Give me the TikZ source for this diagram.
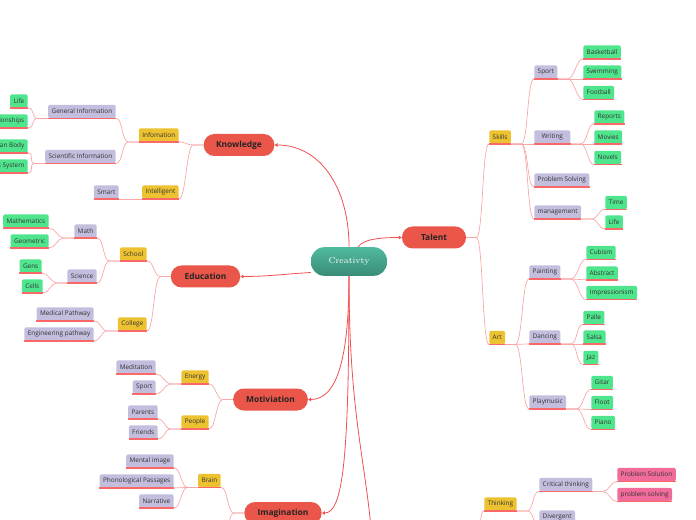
\documentclass[tikz,border=0pt]{standalone}
\usepackage{fontspec}
\newfontfamily\mapfont{Open Sans}
\usepackage{tikz}
\usetikzlibrary{arrows.meta}
\definecolor{topicred}{HTML}{EA5649}
\definecolor{midyel}{HTML}{EDC230}
\definecolor{leafpur}{HTML}{C3BDDE}
\definecolor{leafgrn}{HTML}{4FE58C}
\definecolor{leafpnk}{HTML}{F16B9B}
\definecolor{cretop}{HTML}{50BA9E}
\definecolor{crebot}{HTML}{3A8C78}
\definecolor{mainln}{HTML}{F24F4F}
\definecolor{branchln}{HTML}{F8A5A5}
\definecolor{ulred}{HTML}{FA6868}
\definecolor{inktxt}{HTML}{333333}
\tikzset{
  central/.style={
    rectangle, rounded corners=10pt, top color=cretop, bottom color=crebot,
    minimum width=57pt, minimum height=21.5pt, text=white,
    font=\fontsize{6.5}{7}\selectfont},
  topic/.style={
    rectangle, rounded corners=8pt, fill=topicred,
    minimum width=48pt, minimum height=16.5pt, inner xsep=5pt,
    text=inktxt!70!black, font=\mapfont\bfseries\fontsize{6.3}{7}\selectfont},
  leaf/.style={
    rectangle, rounded corners=1.5pt, minimum height=10pt,
    inner xsep=2.6pt, inner ysep=0pt, text=inktxt,
    font=\mapfont\fontsize{4.8}{5.5}\selectfont},
  yel/.style={leaf, fill=midyel},
  pur/.style={leaf, fill=leafpur},
  grn/.style={leaf, fill=leafgrn},
  pnk/.style={leaf, fill=leafpnk},
  mainlink/.style={mainln, line width=0.6pt, -{Triangle[length=2.2pt,width=2.6pt]}},
  link/.style={branchln, line width=0.5pt},
  uline/.style={ulred, line width=1pt},
  toright/.style={to path={-- ++(10,0) .. controls +(7,0) and +(-7,0) .. (\tikztotarget)}},
  toleft/.style={to path={-- ++(-10,0) .. controls +(-7,0) and +(7,0) .. (\tikztotarget)}},
}
\begin{document}
\begin{tikzpicture}[x=0.75pt, y=-0.75pt]
  \useasboundingbox (0,0) rectangle (696,520);
  % centre and main topics
  \node[central] (cre) at (349,261.5) {Creativty};
  \node[topic, minimum width=53pt] (know) at (239,145) {Knowledge};
  \node[topic, minimum width=48pt] (tal) at (434,237.5) {Talent};
  \node[topic, minimum width=52pt] (edu) at (205.5,276.5) {Education};
  \node[topic, minimum width=56pt] (moti) at (270.5,399.5) {Motiviation};
  \node[topic, minimum width=58pt] (imag) at (283,513) {Imagination};
  \coordinate (offC) at (372,540);
  \coordinate (offI) at (221,548);
  \coordinate (offT) at (466,560);

  % Knowledge
  \node[yel, anchor=east] (info) at (179,135) {Infomation};
  \node[yel, anchor=east] (intel) at (179,192) {Intelligent};
  \node[pur, anchor=east] (geninfo) at (116,111.5) {General Information};
  \node[pur, anchor=east] (sciinfo) at (116,156.5) {Scientific Information};
  \node[pur, anchor=east] (smart) at (119,192) {Smart};
  \node[grn, anchor=east] (lifeA) at (28,101) {Life};
  \node[grn, anchor=east] (relat) at (28,121) {Relationships};
  \node[grn, anchor=east] (human) at (28,146) {Human Body};
  \node[grn, anchor=east] (nerv) at (28,166) {Nervous System};

  % Education
  \node[yel, anchor=east] (school) at (147,254) {School};
  \node[yel, anchor=east] (college) at (147,324) {College};
  \node[pur, anchor=east] (math) at (97,231) {Math};
  \node[pur, anchor=east] (sci) at (97,276) {Science};
  \node[pur, anchor=east] (medic) at (94,314) {Medical Pathway};
  \node[pur, anchor=east] (engin) at (94,334) {Engineering pathway};
  \node[grn, anchor=east] (mathem) at (49,221) {Mathematics};
  \node[grn, anchor=east] (geom) at (49,241) {Geometric};
  \node[grn, anchor=east] (gens) at (42,266) {Gens};
  \node[grn, anchor=east] (cells) at (43,286) {Cells};

  % Motiviation
  \node[yel, anchor=east] (energy) at (209,377) {Energy};
  \node[yel, anchor=east] (people) at (209,422) {People};
  \node[pur, anchor=east] (medit) at (156,367) {Meditation};
  \node[pur, anchor=east] (sportA) at (156,387) {Sport};
  \node[pur, anchor=east] (parents) at (158,412) {Parents};
  \node[pur, anchor=east] (friends) at (158,432) {Friends};

  % Imagination
  \node[yel, anchor=east] (brain) at (221,480.5) {Brain};
  \node[pur, anchor=east] (mental) at (174,461) {Mental image};
  \node[pur, anchor=east] (phono) at (174,481) {Phonological Passages};
  \node[pur, anchor=east] (narr) at (174,501) {Narrative};

  % Talent
  \node[yel, anchor=west] (skills) at (489,137) {Skills};
  \node[yel, anchor=west] (art) at (489,337.5) {Art};
  \node[pur, anchor=west] (sportB) at (534,72) {Sport};
  \node[pur, anchor=west, minimum width=27pt] (writing) at (534,137) {Writing};
  \node[pur, anchor=west] (probsolv) at (534,180) {Problem Solving};
  \node[pur, anchor=west] (manage) at (534,212) {management};
  \node[grn, anchor=west] (basket) at (583,52) {Basketball};
  \node[grn, anchor=west] (swim) at (583,72) {Swimming};
  \node[grn, anchor=west] (foot) at (583,92.5) {Football};
  \node[grn, anchor=west] (reports) at (594,117) {Reports};
  \node[grn, anchor=west] (movies) at (594,137) {Movies};
  \node[grn, anchor=west] (novels) at (594,157.5) {Novels};
  \node[grn, anchor=west] (time) at (605,202.5) {Time};
  \node[grn, anchor=west] (lifeB) at (605,222) {Life};
  \node[pur, anchor=west] (paint) at (529,272) {Painting};
  \node[pur, anchor=west] (dance) at (529,337) {Dancing};
  \node[pur, anchor=west] (playm) at (529,402) {Playmusic};
  \node[grn, anchor=west] (cubism) at (586,252.5) {Cubism};
  \node[grn, anchor=west] (abstr) at (586,273) {Abstract};
  \node[grn, anchor=west] (impress) at (586,292.5) {Impressionism};
  \node[grn, anchor=west] (palle) at (583,317.5) {Palle};
  \node[grn, anchor=west] (salsa) at (583,337) {Salsa};
  \node[grn, anchor=west] (jaz) at (583,357.5) {Jaz};
  \node[grn, anchor=west] (gitar) at (591,382.5) {Gitar};
  \node[grn, anchor=west] (floot) at (591,402.5) {Floot};
  \node[grn, anchor=west] (piano) at (591,422.5) {Piano};

  % Thinking
  \node[yel, anchor=west] (think) at (484,504) {Thinking};
  \node[pur, anchor=west] (critic) at (539,484.5) {Critical thinking};
  \node[pur, anchor=west] (diverg) at (539,517) {Divergent};
  \node[pnk, anchor=west] (psolA) at (617,474.5) {Problem Solution};
  \node[pnk, anchor=west] (psolB) at (617,494.5) {problem solving};

  % main connectors
  \draw[mainlink] (cre.north) .. controls +(0,-60) and +(45,0) .. (know.east);
  \draw[mainlink] (cre.58) .. controls +(5,-8) and +(-20,0) .. (tal.west);
  \draw[mainlink] (cre.196) .. controls +(-30,2) and +(25,0) .. (edu.east);
  \draw[mainlink] (cre.south) .. controls +(0,85) and +(28,0) .. (moti.east);
  \draw[mainlink] (cre.south) .. controls +(0,175) and +(22,0) .. (imag.east);
  \draw[mainln, line width=0.6pt] (cre.south) .. controls +(0,140) and +(-6,-80) .. (offC);

  % branches, left side
  \draw[link] (know.west) to[toleft] (info.south east);
  \draw[link] (know.west) to[toleft] (intel.south east);
  \draw[link] (info.south west) to[toleft] (geninfo.south east);
  \draw[link] (info.south west) to[toleft] (sciinfo.south east);
  \draw[link] (intel.south west) -- (smart.south east);
  \draw[link] (geninfo.south west) to[toleft] (lifeA.south east);
  \draw[link] (geninfo.south west) to[toleft] (relat.south east);
  \draw[link] (sciinfo.south west) to[toleft] (human.south east);
  \draw[link] (sciinfo.south west) to[toleft] (nerv.south east);
  \draw[link] (edu.west) to[toleft] (school.south east);
  \draw[link] (edu.west) to[toleft] (college.south east);
  \draw[link] (school.south west) to[toleft] (math.south east);
  \draw[link] (school.south west) to[toleft] (sci.south east);
  \draw[link] (college.south west) to[toleft] (medic.south east);
  \draw[link] (college.south west) to[toleft] (engin.south east);
  \draw[link] (math.south west) to[toleft] (mathem.south east);
  \draw[link] (math.south west) to[toleft] (geom.south east);
  \draw[link] (sci.south west) to[toleft] (gens.south east);
  \draw[link] (sci.south west) to[toleft] (cells.south east);
  \draw[link] (moti.west) to[toleft] (energy.south east);
  \draw[link] (moti.west) to[toleft] (people.south east);
  \draw[link] (energy.south west) to[toleft] (medit.south east);
  \draw[link] (energy.south west) to[toleft] (sportA.south east);
  \draw[link] (people.south west) to[toleft] (parents.south east);
  \draw[link] (people.south west) to[toleft] (friends.south east);
  \draw[link] (imag.west) to[toleft] (brain.south east);
  \draw[link] (imag.west) to[toleft] (offI);
  \draw[link] (brain.south west) to[toleft] (mental.south east);
  \draw[link] (brain.south west) to[toleft] (phono.south east);
  \draw[link] (brain.south west) to[toleft] (narr.south east);

  % branches, right side
  \draw[link] (tal.east) to[toright] (skills.south west);
  \draw[link] (tal.east) to[toright] (art.south west);
  \draw[link] (skills.south east) to[toright] (sportB.south west);
  \draw[link] (skills.south east) to[toright] (writing.south west);
  \draw[link] (skills.south east) to[toright] (probsolv.south west);
  \draw[link] (skills.south east) to[toright] (manage.south west);
  \draw[link] (sportB.south east) to[toright] (basket.south west);
  \draw[link] (sportB.south east) to[toright] (swim.south west);
  \draw[link] (sportB.south east) to[toright] (foot.south west);
  \draw[link] (writing.south east) to[toright] (reports.south west);
  \draw[link] (writing.south east) to[toright] (movies.south west);
  \draw[link] (writing.south east) to[toright] (novels.south west);
  \draw[link] (manage.south east) to[toright] (time.south west);
  \draw[link] (manage.south east) to[toright] (lifeB.south west);
  \draw[link] (art.south east) to[toright] (paint.south west);
  \draw[link] (art.south east) to[toright] (dance.south west);
  \draw[link] (art.south east) to[toright] (playm.south west);
  \draw[link] (paint.south east) to[toright] (cubism.south west);
  \draw[link] (paint.south east) to[toright] (abstr.south west);
  \draw[link] (paint.south east) to[toright] (impress.south west);
  \draw[link] (dance.south east) to[toright] (palle.south west);
  \draw[link] (dance.south east) to[toright] (salsa.south west);
  \draw[link] (dance.south east) to[toright] (jaz.south west);
  \draw[link] (playm.south east) to[toright] (gitar.south west);
  \draw[link] (playm.south east) to[toright] (floot.south west);
  \draw[link] (playm.south east) to[toright] (piano.south west);
  \draw[link] (offT) to[toright] (think.south west);
  \draw[link] (think.south east) to[toright] (critic.south west);
  \draw[link] (think.south east) to[toright] (diverg.south west);
  \draw[link] (critic.south east) to[toright] (psolA.south west);
  \draw[link] (critic.south east) to[toright] (psolB.south west);

  % underlines
  \foreach \n in {info,intel,geninfo,sciinfo,smart,lifeA,relat,human,nerv,
    school,college,math,sci,medic,engin,mathem,geom,gens,cells,
    energy,people,medit,sportA,parents,friends,brain,mental,phono,narr,
    skills,art,sportB,writing,probsolv,manage,basket,swim,foot,reports,
    movies,novels,time,lifeB,paint,dance,playm,cubism,abstr,impress,
    palle,salsa,jaz,gitar,floot,piano,think,critic,diverg,psolA,psolB}
    \draw[uline] (\n.south west) -- (\n.south east);
\end{tikzpicture}
\end{document}
